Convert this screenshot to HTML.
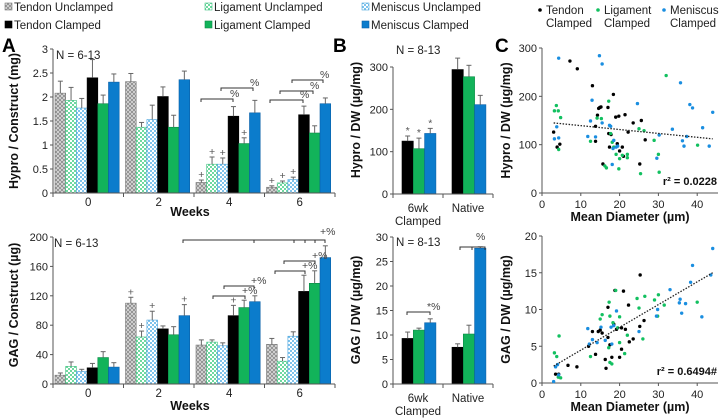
<!DOCTYPE html>
<html><head><meta charset="utf-8"><style>
body{margin:0;background:#fff}
svg{display:block;font-family:"Liberation Sans",sans-serif}
</style></head><body>
<svg id="fig" width="723" height="418" viewBox="0 0 723 418" xmlns="http://www.w3.org/2000/svg">
<defs>
<pattern id="pTU" width="4" height="4" patternUnits="userSpaceOnUse"><rect width="4" height="4" fill="#ddd"/><path d="M0 0L4 4M4 0L0 4" stroke="#888" stroke-width="0.8"/></pattern>
<pattern id="pLU" width="4" height="4" patternUnits="userSpaceOnUse"><rect width="4" height="4" fill="#fff"/><rect width="2" height="2" fill="#6fd9a0"/><rect x="2" y="2" width="2" height="2" fill="#6fd9a0"/></pattern>
<pattern id="pMU" width="4" height="4" patternUnits="userSpaceOnUse"><rect width="4" height="4" fill="#fff"/><rect width="2" height="2" fill="#7fc3ec"/><rect x="2" y="2" width="2" height="2" fill="#7fc3ec"/></pattern>
</defs>
<g id="root"></g>
</svg>
<script>
// ---- Panel A data ----
const weeks = ["0","2","4","6"];
const seriesA = ["Tendon Unclamped","Ligament Unclamped","Meniscus Unclamped","Tendon Clamped","Ligament Clamped","Meniscus Clamped"];
const hypA = [[2.08,1.93,1.77,2.4,1.86,2.31],[2.32,1.37,1.53,2.01,1.37,2.36],[0.22,0.6,0.6,1.6,1.03,1.67],[0.12,0.21,0.28,1.63,1.25,1.86]];
const hypAerr = [[0.25,0.27,0.2,0.38,0.18,0.17],[0.17,0.1,0.3,0.2,0.25,0.18],[0.05,0.15,0.13,0.2,0.12,0.26],[0.03,0.04,0.05,0.18,0.15,0.12]];
const gagA = [[12,24,17,22,36,23],[110,64,87,75,67,93],[53,57,52,93,104,112],[54,31,65,126,137,172]];
const gagAerr = [[3,6,3,6,8,6],[8,8,12,4,11,15],[7,3,4,14,10,8],[8,5,6,22,17,16]];
const hypATicks = [0,0.5,1,1.5,2,2.5,3];
const gagATicks = [0,40,80,120,160,200];
const hypAMarks = [[2,0,"+"],[2,1,"+"],[2,2,"+"],[2,4,"+"],[3,0,"+"],[3,1,"+"],[3,2,"+"]];
const gagAMarks = [[1,0,"+"],[1,1,"+"],[1,2,"+"],[1,5,"+"],[2,3,"+"]];
// ---- Panel B data ----
const groupsB = ["6wk|Clamped","Native"];
const hypB = [[125,107,143],[294,277,211]];
const hypBerr = [[12,25,12],[27,27,22]];
const gagB = [[9.3,11,12.5],[7.5,10.2,27.7]];
const gagBerr = [[1.3,0.4,0.8],[0.7,1.8,0.3]];
const hypBTicks = [0,100,200,300];
const gagBTicks = [0,5,10,15,20,25,30];
const hypBMarks = [[0,0,"*"],[0,1,"*"],[0,2,"*"]];
// ---- Panel C data ----
const cTendonHyp = [[3,126],[3.9,95],[4.6,101],[7.2,273],[9.1,257],[13,222],[13.8,107],[13.8,138],[14.3,161],[14.6,175],[14.9,177],[15.2,178],[15.7,60],[17,177],[17.2,123],[17.4,95],[17.8,121],[18.4,204],[19,157],[19.4,102],[19.8,159],[20,87],[20.7,95],[21,76],[21.4,162],[22.2,126],[23.5,145],[25.2,60],[25.6,150],[26.6,110]];
const cLigHyp = [[3.2,170],[3.7,181],[4.2,170],[4.8,156],[4.3,90],[12.5,107],[14.2,155],[15.3,154],[16.2,56],[16.6,52],[17.2,190],[17.7,123],[18.1,105],[18.5,95],[19.1,80],[19.8,50],[20,71],[20.7,78],[22,80],[22,73],[25,133],[26.3,129],[25.4,40],[28.9,109],[30,80],[30.2,43],[32,243],[40.1,99]];
const cMenHyp = [[4.3,279],[3.8,137],[4.3,114],[3.2,112],[11.8,117],[12.5,149],[12.9,192],[13.8,116],[14.8,284],[15.5,267],[15.5,145],[17.4,140],[17.7,138],[18.3,92],[18.1,59],[18.5,109],[19.1,95],[19.5,97],[24.6,185],[30.2,120],[29.6,72],[33.6,132],[35.7,228],[36.2,108],[36.6,97],[38.1,183],[38.8,176],[37.3,117],[41.4,135],[43.1,97],[44,167]];
const cTendonGag = [[3.5,1.2],[4.3,1.2],[6.7,2.4],[9,2.2],[12,5],[13,7],[13.8,3.9],[14.5,7],[15,7.2],[15.5,6.8],[16.5,2],[17,6.2],[17,10.3],[17.5,5.2],[18,3.5],[18.5,8],[18.8,12.6],[19.2,7.3],[20,3.5],[20.5,7.5],[20.5,4.6],[21,12.5],[21.5,7.3],[22.3,10.6],[22.5,5.6],[23.5,6],[25.2,7.7],[25.3,14.7],[26.3,8.5],[16.3,3.2]];
const cLigGag = [[3.2,4.1],[3.8,3.6],[4.2,0.8],[4.4,6.4],[4.8,0.7],[12.5,3.6],[15,8.7],[15.5,9.3],[17.3,11],[17.5,9.1],[17.2,4.8],[17.5,2.8],[18,2.6],[18.3,8.2],[19,12.6],[19.5,7.5],[20,9],[20,5.5],[21.3,4],[22,6.5],[24.5,11.5],[25,10.2],[26.5,11.8],[26,6],[29,11.3],[30,12],[29.8,9.1],[31.5,10.6],[40,11]];
const cMenGag = [[3,0.2],[3.5,2.2],[4,2.5],[4.3,1.1],[11.8,7.4],[12.2,5.3],[13,5.9],[14.2,5.5],[15.2,7.6],[16.3,5.8],[17.8,7.6],[18,5.3],[18.5,7.8],[19.2,9.8],[25,7],[29.8,10],[29.5,9.1],[33,12.7],[35.4,10.9],[35.6,11.4],[36,9.5],[37,10.8],[38.3,13.7],[38.8,16],[41.2,9],[43.5,14.7],[44,18.3]];
const trendHyp = [[3,145],[44,112]];
const trendGag = [[3,2.3],[44,15]];
const cXTicks = [0,10,20,30,40];
const cHypTicks = [0,100,200,300];
const cGagTicks = [0,5,10,15,20];

const fills = ["url(#pTU)","url(#pLU)","url(#pMU)","#000","#12b35a","#0b7ccc"];
const strokes = ["#777","#3fbf80","#4aa4dd","#000","#0a8a45","#0a60a8"];
const cCols = ["#000","#12c060","#1a8ee0"];
const NS = "http://www.w3.org/2000/svg";
const root = document.getElementById('root');
function el(tag, attrs, parent, txt){
  const e = document.createElementNS(NS, tag);
  for (const k in attrs) e.setAttribute(k, attrs[k]);
  if (txt !== undefined) e.textContent = txt;
  (parent||root).appendChild(e);
  return e;
}
function txt(x,y,s,size,opts,parent){
  return el('text',Object.assign({x:x,y:y,'font-size':size,fill:'#222'},opts||{}),parent,s);
}
function yAxis(x, y0, y1, ticks, max, fmt, name){
  const g = el('g',{});
  
  
  el('line',{x1:x,y1:y0,x2:x,y2:y1,stroke:'#555','stroke-width':1},g);
  ticks.forEach(v=>{
    const y = y0 - (y0-y1)*v/max;
    el('line',{x1:x-3,y1:y,x2:x,y2:y,stroke:'#555'},g);
    txt(x-5,y+4,fmt?fmt(v):String(v),11,{'text-anchor':'end'},g);
  });
}
function bars(vals, errs, x0, gw, bw, off, y0, ppu, colIdx, name, marks){
  const g = el('g',{});
  
  
  vals.forEach((row,gi)=>{
    row.forEach((v,bi)=>{
      const ci = colIdx[bi];
      const x = x0 + gi*gw + off + bi*bw;
      const h = v*ppu;
      const e = errs[gi][bi]*ppu;
      const r = el('rect',{x:x,y:y0-h,width:bw,height:h,fill:fills[ci],stroke:strokes[ci],'stroke-width':0.6},g);
      
      
      el('line',{x1:x+bw/2,y1:y0-h,x2:x+bw/2,y2:y0-h-e,stroke:'#666'},g);
      el('line',{x1:x+bw/2-2.5,y1:y0-h-e,x2:x+bw/2+2.5,y2:y0-h-e,stroke:'#666'},g);
    });
  });
  (marks||[]).forEach(m=>{
    const [gi,bi,s]=m;
    const x = x0 + gi*gw + off + bi*bw + bw/2;
    const top = y0 - (vals[gi][bi]+errs[gi][bi])*ppu;
    txt(x,top-2,s,10.5,{'text-anchor':'middle',fill:'#555'},g);
  });
}
function xAxisGroups(x0,x1,y,n,labels,labY){
  el('line',{x1:x0,y1:y,x2:x1,y2:y,stroke:'#555'});
  const gw=(x1-x0)/n;
  for(let i=0;i<=n;i++) el('line',{x1:x0+i*gw,y1:y,x2:x0+i*gw,y2:y+4,stroke:'#555'});
  labels.forEach((l,i)=>{
    l.split('|').forEach((p,j)=>txt(x0+gw*(i+0.5),labY+j*13,p,11.5,{'text-anchor':'middle'}));
  });
}
function bracket(x1,x2,y,label){
  el('path',{d:`M${x1} ${y+3}V${y}H${x2}V${y+3}`,fill:'none',stroke:'#333'});
  if(label) txt(x2-3,y-2,label,10.5,{fill:'#444'});
}

// Legend
const legend = el('g',{});


const legPos=[[5,11],[205,11],[362,11],[5,29],[205,29],[362,29]];
seriesA.forEach((s,i)=>{
  const [x,y]=legPos[i];
  el('rect',{x:x,y:y-8,width:7,height:7,fill:fills[i],stroke:strokes[i],'stroke-width':0.6},legend);
  const t=txt(x+9,y,s,11.5,{},legend);
  
  
});

txt(2,52,'A',19,{'font-weight':'bold',fill:'#000'});
txt(333,52,'B',19,{'font-weight':'bold',fill:'#000'});
txt(495,52,'C',19,{'font-weight':'bold',fill:'#000'});

// A top
yAxis(53,193,49,hypATicks,3);
bars(hypA,hypAerr,53,70.5,10.7,2,193,48,[0,1,2,3,4,5],'hypro-construct',hypAMarks);
xAxisGroups(53,335,193,4,weeks,206);
txt(190,216,'Weeks',12.5,{'font-weight':'bold','text-anchor':'middle',fill:'#111'});
txt(56,59,'N = 6-13',11.5,{});
txt(18,121,'Hypro / Construct (mg)',12.5,{'font-weight':'bold','text-anchor':'middle',transform:'rotate(-90 18 121)',fill:'#111'});
bracket(201,233,99,'%');bracket(221,253,88,'%');
bracket(270,303,100,'%');bracket(280,313,91,'%');bracket(292,323,80,'%');
// A bottom
yAxis(53,384,237,gagATicks,200);
bars(gagA,gagAerr,53,70.5,10.7,2,384,147/200,[0,1,2,3,4,5],'gag-construct',gagAMarks);
xAxisGroups(53,335,384,4,weeks,397);
txt(190,410,'Weeks',12.5,{'font-weight':'bold','text-anchor':'middle',fill:'#111'});
txt(54,247,'N = 6-13',11.5,{});
txt(18,305,'GAG / Construct (µg)',12.5,{'font-weight':'bold','text-anchor':'middle',transform:'rotate(-90 18 305)',fill:'#111'});
el('path',{d:'M183 243V240H325V243M254 240V243M294 240V243M305 240V243M315 240V243',fill:'none',stroke:'#333'});
txt(320,235,'+%',10.5,{fill:'#444'});
bracket(213,245,296,'+%');bracket(224,254,286,'+%');
bracket(275,305,271,'+%');bracket(284,315,261,'+%');

// B top
yAxis(393,194,67,hypBTicks,300);
bars(hypB,hypBerr,393,50,11.3,9,194,127/300,[3,4,5],'hypro-dw',hypBMarks);
xAxisGroups(393,493,194,2,groupsB,212);
txt(396,54,'N = 8-13',11.5,{});
txt(360,120,'Hypro / DW (µg/mg)',12.5,{'font-weight':'bold','text-anchor':'middle',transform:'rotate(-90 360 120)',fill:'#111'});
// B bottom
yAxis(393,384,237,gagBTicks,30);
bars(gagB,gagBerr,393,50,11.3,9,384,147/30,[3,4,5],'gag-dw');
xAxisGroups(393,493,384,2,groupsB,402);
txt(396,246,'N = 8-13',11.5,{});
txt(360,310,'GAG / DW (µg/mg)',12.5,{'font-weight':'bold','text-anchor':'middle',transform:'rotate(-90 360 310)',fill:'#111'});
bracket(407,430,312,'*%');bracket(460,485,247,'');
el('line',{x1:472,y1:247,x2:472,y2:250,stroke:'#333'});
txt(476,240,'%',10.5,{fill:'#444'});

// Panel C
function scatter(yTop,yBot,ticks,ymax,sets,trend,ylabel,r2,name){
  const x0=542, ppx=3.88;
  const sx=v=>x0+v*ppx, sy=v=>yBot-(yBot-yTop)*v/ymax;
  yAxis(x0,yBot,yTop,ticks,ymax);
  el('line',{x1:x0,y1:yBot,x2:718,y2:yBot,stroke:'#555'});
  cXTicks.forEach(v=>{el('line',{x1:sx(v),y1:yBot,x2:sx(v),y2:yBot+3,stroke:'#555'});txt(sx(v),yBot+15,String(v),11,{'text-anchor':'middle'});});
  txt(630,yBot+28,'Mean Diameter (µm)',12.5,{'font-weight':'bold','text-anchor':'middle',fill:'#111'});
  const yc=(yTop+yBot)/2;
  txt(510,yc,ylabel,12.5,{'font-weight':'bold','text-anchor':'middle',transform:`rotate(-90 510 ${yc})`,fill:'#111'});
  const g=el('g',{});
  
  
  sets.forEach((s,si)=>s.forEach(p=>{
    const c=el('circle',{cx:sx(p[0]),cy:sy(p[1]),r:1.7,fill:cCols[si]},g);
    
    
  }));
  const tl=el('line',{x1:sx(trend[0][0]),y1:sy(trend[0][1]),x2:sx(trend[1][0]),y2:sy(trend[1][1]),stroke:'#222','stroke-width':1.3,'stroke-dasharray':'1.5 1.5'});
  
  
  txt(717,yBot-8,r2,11,{'font-weight':'bold','text-anchor':'end',fill:'#111'});
}
scatter(48,193,cHypTicks,300,[cTendonHyp,cLigHyp,cMenHyp],trendHyp,'Hypro / DW (µg/mg)','r² = 0.0228','scatter-hypro');
scatter(236,383,cGagTicks,20,[cTendonGag,cLigGag,cMenGag],trendGag,'GAG / DW (µg/mg)','r² = 0.6494#','scatter-gag');
[['Tendon',540],['Ligament',598],['Meniscus',664]].forEach((l,i)=>{
  const g=el('g',{});
  
  
  el('circle',{cx:l[1],cy:10,r:1.8,fill:cCols[i]},g);
  txt(l[1]+6,14,l[0],11.5,{},g);
  txt(l[1]+6,27,'Clamped',11.5,{},g);
});
</script>
</body></html>
